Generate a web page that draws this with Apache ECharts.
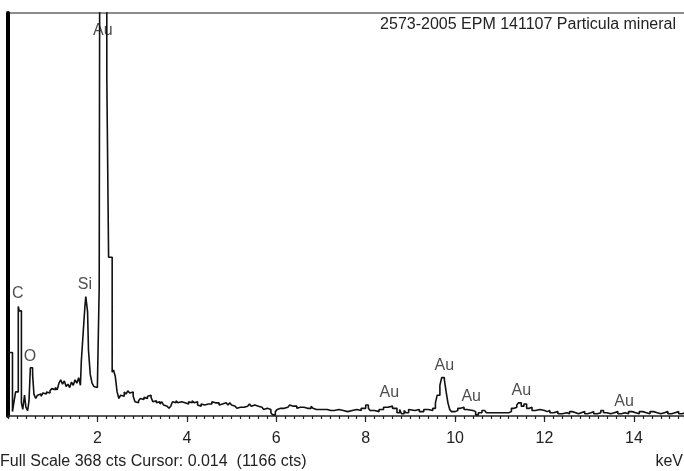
<!DOCTYPE html>
<html>
<head>
<meta charset="utf-8">
<script src="https://cdn.jsdelivr.net/npm/echarts@6/dist/echarts.min.js"></script>
<style>
  html, body { margin: 0; padding: 0; background: #fff; }
  #chart { width: 684px; height: 471px; }
</style>
</head>
<body>
<div id="chart"></div>
<script>
// spectrum channels: energy (keV) at channel start, counts held until next channel
var energy = [
  0.00, 0.10, 0.13, 0.17, 0.23, 0.25, 0.30, 0.33, 0.37, 0.40, 0.44, 0.47, 0.50, 0.55, 0.58,
  0.62, 0.66, 0.70, 0.74, 0.78, 0.82, 0.86, 0.90, 0.94, 0.98, 1.02, 1.06, 1.10, 1.14, 1.18,
  1.22, 1.26, 1.30, 1.34, 1.38, 1.42, 1.46, 1.50, 1.54, 1.58, 1.62, 1.64, 1.68, 1.72, 1.74,
  1.78, 1.80, 1.84, 1.88, 1.92, 1.96, 2.00, 2.04, 2.07, 2.12, 2.16, 2.21, 2.25, 2.33, 2.36,
  2.40, 2.44, 2.48, 2.52, 2.56, 2.60, 2.64, 2.68, 2.72, 2.76, 2.80, 2.84, 2.88, 2.92, 2.96,
  3.00, 3.04, 3.08, 3.12, 3.16, 3.20, 3.24, 3.28, 3.32, 3.36, 3.40, 3.44, 3.48, 3.52, 3.56,
  3.60, 3.64, 3.68, 3.72, 3.76, 3.80, 3.84, 3.88, 3.92, 3.96, 4.00, 4.04, 4.08, 4.12, 4.16,
  4.20, 4.24, 4.28, 4.32, 4.36, 4.40, 4.44, 4.48, 4.52, 4.56, 4.60, 4.64, 4.68, 4.72, 4.76,
  4.80, 4.84, 4.88, 4.92, 4.96, 5.00, 5.04, 5.08, 5.12, 5.16, 5.20, 5.24, 5.28, 5.32, 5.36,
  5.40, 5.44, 5.48, 5.52, 5.56, 5.60, 5.64, 5.68, 5.72, 5.76, 5.80, 5.84, 5.88, 5.92, 5.98,
  6.02, 6.06, 6.10, 6.14, 6.18, 6.22, 6.26, 6.30, 6.34, 6.38, 6.42, 6.46, 6.50, 6.54, 6.58,
  6.62, 6.66, 6.70, 6.74, 6.78, 6.82, 6.86, 6.90, 6.94, 6.98, 7.02, 7.06, 7.10, 7.14, 7.18,
  7.22, 7.30, 7.40, 7.50, 7.60, 7.70, 7.80, 7.90, 8.00, 8.06, 8.10, 8.20, 8.30, 8.40, 8.50,
  8.60, 8.70, 8.76, 8.80, 8.86, 8.90, 8.96, 9.00, 9.10, 9.20, 9.30, 9.40, 9.50, 9.56, 9.60,
  9.66, 9.70, 9.76, 9.80, 9.84, 9.88, 9.92, 10.00, 10.06, 10.12, 10.20, 10.26, 10.30, 10.40, 10.46,
  10.52, 10.60, 10.66, 10.70, 10.80, 10.90, 11.00, 11.10, 11.20, 11.26, 11.32, 11.38, 11.42, 11.48, 11.54,
  11.60, 11.66, 11.72, 11.80, 11.90, 12.00, 12.06, 12.12, 12.20, 12.30, 12.40, 12.50, 12.56, 12.62, 12.70,
  12.76, 12.82, 12.90, 12.96, 13.04, 13.10, 13.18, 13.26, 13.32, 13.40, 13.48, 13.56, 13.64, 13.72, 13.80,
  13.88, 13.96, 14.04, 14.12, 14.20, 14.28, 14.36, 14.44, 14.52, 14.60, 14.68, 14.76, 14.84, 14.92, 15.00,
  15.08, 15.15
];
var counts = [
  58, 4, 12, 22, 100, 96, 12, 6, 19, 8, 5, 14, 44, 38, 20,
  16, 19, 20, 18, 21, 20, 22, 21, 23, 25, 24, 26, 24, 30, 33,
  29, 32, 27, 29, 26, 31, 28, 33, 30, 35, 28, 50, 75, 100, 109,
  95, 60, 38, 30, 27, 26, 28, 118, 900, 1100, 800, 310, 145, 40, 42,
  36, 22, 16, 19, 18, 22, 20, 23, 21, 22, 18, 13, 12, 14, 16,
  15, 17, 16, 18, 19, 17, 13, 14, 12, 13, 11, 13, 10, 9, 8,
  7, 9, 13, 12, 14, 12, 13, 14, 12, 13, 11, 13, 12, 14, 12,
  13, 10, 9, 11, 10, 9, 11, 12, 11, 13, 12, 11, 12, 10, 11,
  10, 12, 11, 10, 12, 10, 9, 8, 7, 8, 9, 8, 7, 9, 10,
  11, 9, 10, 11, 9, 10, 8, 7, 6, 7, 8, 6, 3, 1, 4,
  6, 7, 8, 7, 6, 8, 9, 10, 9, 8, 9, 7, 8, 9, 8,
  9, 7, 8, 7, 9, 7, 6, 7, 6, 7, 6, 5, 6, 7, 5,
  5, 6, 5, 4, 5, 6, 5, 7, 10, 7, 5, 4, 6, 8, 9,
  7, 3, 6, 2, 5, 3, 6, 5, 6, 4, 6, 5, 7, 12, 19,
  28, 35, 33, 22, 12, 6, 4, 5, 7, 8, 6, 7, 5, 4, 1,
  3, 5, 6, 3, 3, 3, 3, 3, 4, 7, 8, 10, 12, 9, 11,
  7, 8, 5, 6, 5, 4, 5, 3, 4, 2, 3, 2, 4, 3, 2,
  3, 4, 2, 3, 4, 2, 3, 5, 3, 2, 3, 4, 2, 3, 2,
  4, 3, 2, 4, 3, 2, 4, 3, 2, 3, 4, 2, 3, 4, 2,
  3, 3
];

// element labels: energy, counts (label centre), text
var peakKeV = [0.22, 0.49, 1.72, 2.12, 8.53, 9.76, 10.36, 11.48, 13.78];
var peakCts = [112, 54, 120, 352, 21, 46, 18, 23, 13];
var peakText = ['C', 'O', 'Si', 'Au', 'Au', 'Au', 'Au', 'Au', 'Au'];

var xTicks = [2, 4, 6, 8, 10, 12, 14];
var fullScale = 368;

var chart = echarts.init(document.getElementById('chart'));
var font = '"Liberation Sans", Arial, sans-serif';

var spectrum = [];
energy.forEach(function (e, i) { spectrum.push([e, counts[i]]); });
var labels = [];
peakKeV.forEach(function (e, i) { labels.push([e, peakCts[i], peakText[i]]); });

var option = {
  animation: false,
  backgroundColor: '#fff',
  grid: { left: 8, right: 0, top: 13, bottom: 55 },
  xAxis: [
    {
      type: 'value', min: 0, max: 15.12, interval: 2,
      axisLine: { lineStyle: { color: '#222', width: 1.5 } },
      axisTick: { length: 6, lineStyle: { color: '#222', width: 1.2 } },
      axisLabel: {
        color: '#222', fontSize: 16, fontFamily: font, margin: 15,
        showMinLabel: false, showMaxLabel: false,
        formatter: function (v) { return xTicks.indexOf(v) >= 0 ? String(v) : ''; }
      },
      splitLine: { show: false }
    },
    {
      type: 'value', min: 0, max: 15.12, interval: 0.2, position: 'bottom',
      axisLine: { show: false },
      axisTick: { length: 3, lineStyle: { color: '#222', width: 1.2 } },
      axisLabel: { show: false },
      splitLine: { show: false }
    }
  ],
  yAxis: {
    type: 'value', min: 0, max: fullScale,
    axisLine: { show: true, lineStyle: { color: '#000', width: 4 } },
    axisTick: { show: false },
    axisLabel: { show: false },
    splitLine: { show: false }
  },
  graphic: [
    { type: 'line', shape: { x1: 7, y1: 13, x2: 684, y2: 13 }, style: { stroke: '#666', lineWidth: 1.5 } },
    { type: 'text', right: 8, top: 17, style: { text: '2573-2005 EPM 141107 Particula mineral', fill: '#222', font: '16px ' + font } },
    { type: 'text', left: 0, top: 454, style: { text: 'Full Scale 368 cts Cursor: 0.014  (1166 cts)', fill: '#222', font: '16px ' + font } },
    { type: 'text', right: 1, top: 454, style: { text: 'keV', fill: '#222', font: '16px ' + font } }
  ],
  series: [
    {
      type: 'line', xAxisIndex: 0, step: 'end', symbol: 'none', clip: true,
      lineStyle: { color: '#111', width: 1.6 },
      data: spectrum
    },
    {
      type: 'scatter', xAxisIndex: 0, symbolSize: 0, silent: true,
      label: {
        show: true, position: 'inside', color: '#222', fontSize: 16, fontFamily: font,
        formatter: function (p) { return p.data[2]; }
      },
      data: labels
    }
  ]
};
chart.setOption(option);
</script>
</body>
</html>
